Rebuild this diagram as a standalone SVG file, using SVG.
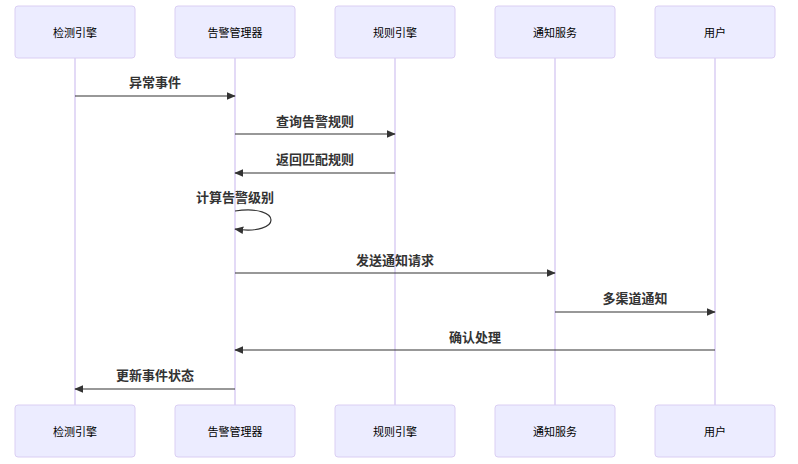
<svg xmlns="http://www.w3.org/2000/svg" width="798" height="464" viewBox="0 0 798 464">
<defs>
<style>
.actor{fill:#ECECFF;stroke:#DACEF3;stroke-width:1}
.life{stroke:#DACEF3;stroke-width:1.5}
.at{font-family:"Liberation Sans","Noto Sans CJK SC",sans-serif;font-size:11px;fill:#000;text-anchor:middle;dominant-baseline:central}
.msg{stroke:#333;stroke-width:1.2;fill:none}
.ml{font-family:"Liberation Sans","Noto Sans CJK SC",sans-serif;font-size:13px;font-weight:bold;fill:#333;text-anchor:middle}
</style>
<marker id="ah" viewBox="0 0 12 12" refX="11" refY="6" markerWidth="9" markerHeight="9" markerUnits="userSpaceOnUse" orient="auto">
<path d="M0,1 L12,6 L0,11 z" fill="#333"/>
</marker>
</defs>
<g id="lifelines">
<line class="life" x1="75" y1="58" x2="75" y2="405"/>
<line class="life" x1="235" y1="58" x2="235" y2="405"/>
<line class="life" x1="395" y1="58" x2="395" y2="405"/>
<line class="life" x1="555" y1="58" x2="555" y2="405"/>
<line class="life" x1="715" y1="58" x2="715" y2="405"/>
</g>
<g id="actor-detect-top"><rect class="actor" x="15" y="6" width="120" height="52" rx="3"/><text class="at" x="75" y="33">检测引擎</text></g>
<g id="actor-alert-top"><rect class="actor" x="175" y="6" width="120" height="52" rx="3"/><text class="at" x="235" y="33">告警管理器</text></g>
<g id="actor-rule-top"><rect class="actor" x="335" y="6" width="120" height="52" rx="3"/><text class="at" x="395" y="33">规则引擎</text></g>
<g id="actor-notify-top"><rect class="actor" x="495" y="6" width="120" height="52" rx="3"/><text class="at" x="555" y="33">通知服务</text></g>
<g id="actor-user-top"><rect class="actor" x="655" y="6" width="120" height="52" rx="3"/><text class="at" x="715" y="33">用户</text></g>
<g id="actor-detect-bottom"><rect class="actor" x="15" y="405" width="120" height="52" rx="3"/><text class="at" x="75" y="432">检测引擎</text></g>
<g id="actor-alert-bottom"><rect class="actor" x="175" y="405" width="120" height="52" rx="3"/><text class="at" x="235" y="432">告警管理器</text></g>
<g id="actor-rule-bottom"><rect class="actor" x="335" y="405" width="120" height="52" rx="3"/><text class="at" x="395" y="432">规则引擎</text></g>
<g id="actor-notify-bottom"><rect class="actor" x="495" y="405" width="120" height="52" rx="3"/><text class="at" x="555" y="432">通知服务</text></g>
<g id="actor-user-bottom"><rect class="actor" x="655" y="405" width="120" height="52" rx="3"/><text class="at" x="715" y="432">用户</text></g>
<g id="connectors">
<line class="msg" x1="75" y1="96" x2="235" y2="96" marker-end="url(#ah)"/>
<line class="msg" x1="235" y1="134" x2="395" y2="134" marker-end="url(#ah)"/>
<line class="msg" x1="395" y1="173" x2="235" y2="173" marker-end="url(#ah)"/>
<path class="msg" d="M235,211 C283,204 283,236 235,229" marker-end="url(#ah)"/>
<line class="msg" x1="235" y1="273" x2="555" y2="273" marker-end="url(#ah)"/>
<line class="msg" x1="555" y1="312" x2="715" y2="312" marker-end="url(#ah)"/>
<line class="msg" x1="715" y1="350" x2="235" y2="350" marker-end="url(#ah)"/>
<line class="msg" x1="235" y1="389" x2="75" y2="389" marker-end="url(#ah)"/>
</g>
<g id="labels">
<text class="ml" x="155" y="87">异常事件</text>
<text class="ml" x="315" y="126">查询告警规则</text>
<text class="ml" x="315" y="164">返回匹配规则</text>
<text class="ml" x="235" y="202">计算告警级别</text>
<text class="ml" x="395" y="265">发送通知请求</text>
<text class="ml" x="635" y="303">多渠道通知</text>
<text class="ml" x="475" y="342">确认处理</text>
<text class="ml" x="155" y="380">更新事件状态</text>
</g>
</svg>
